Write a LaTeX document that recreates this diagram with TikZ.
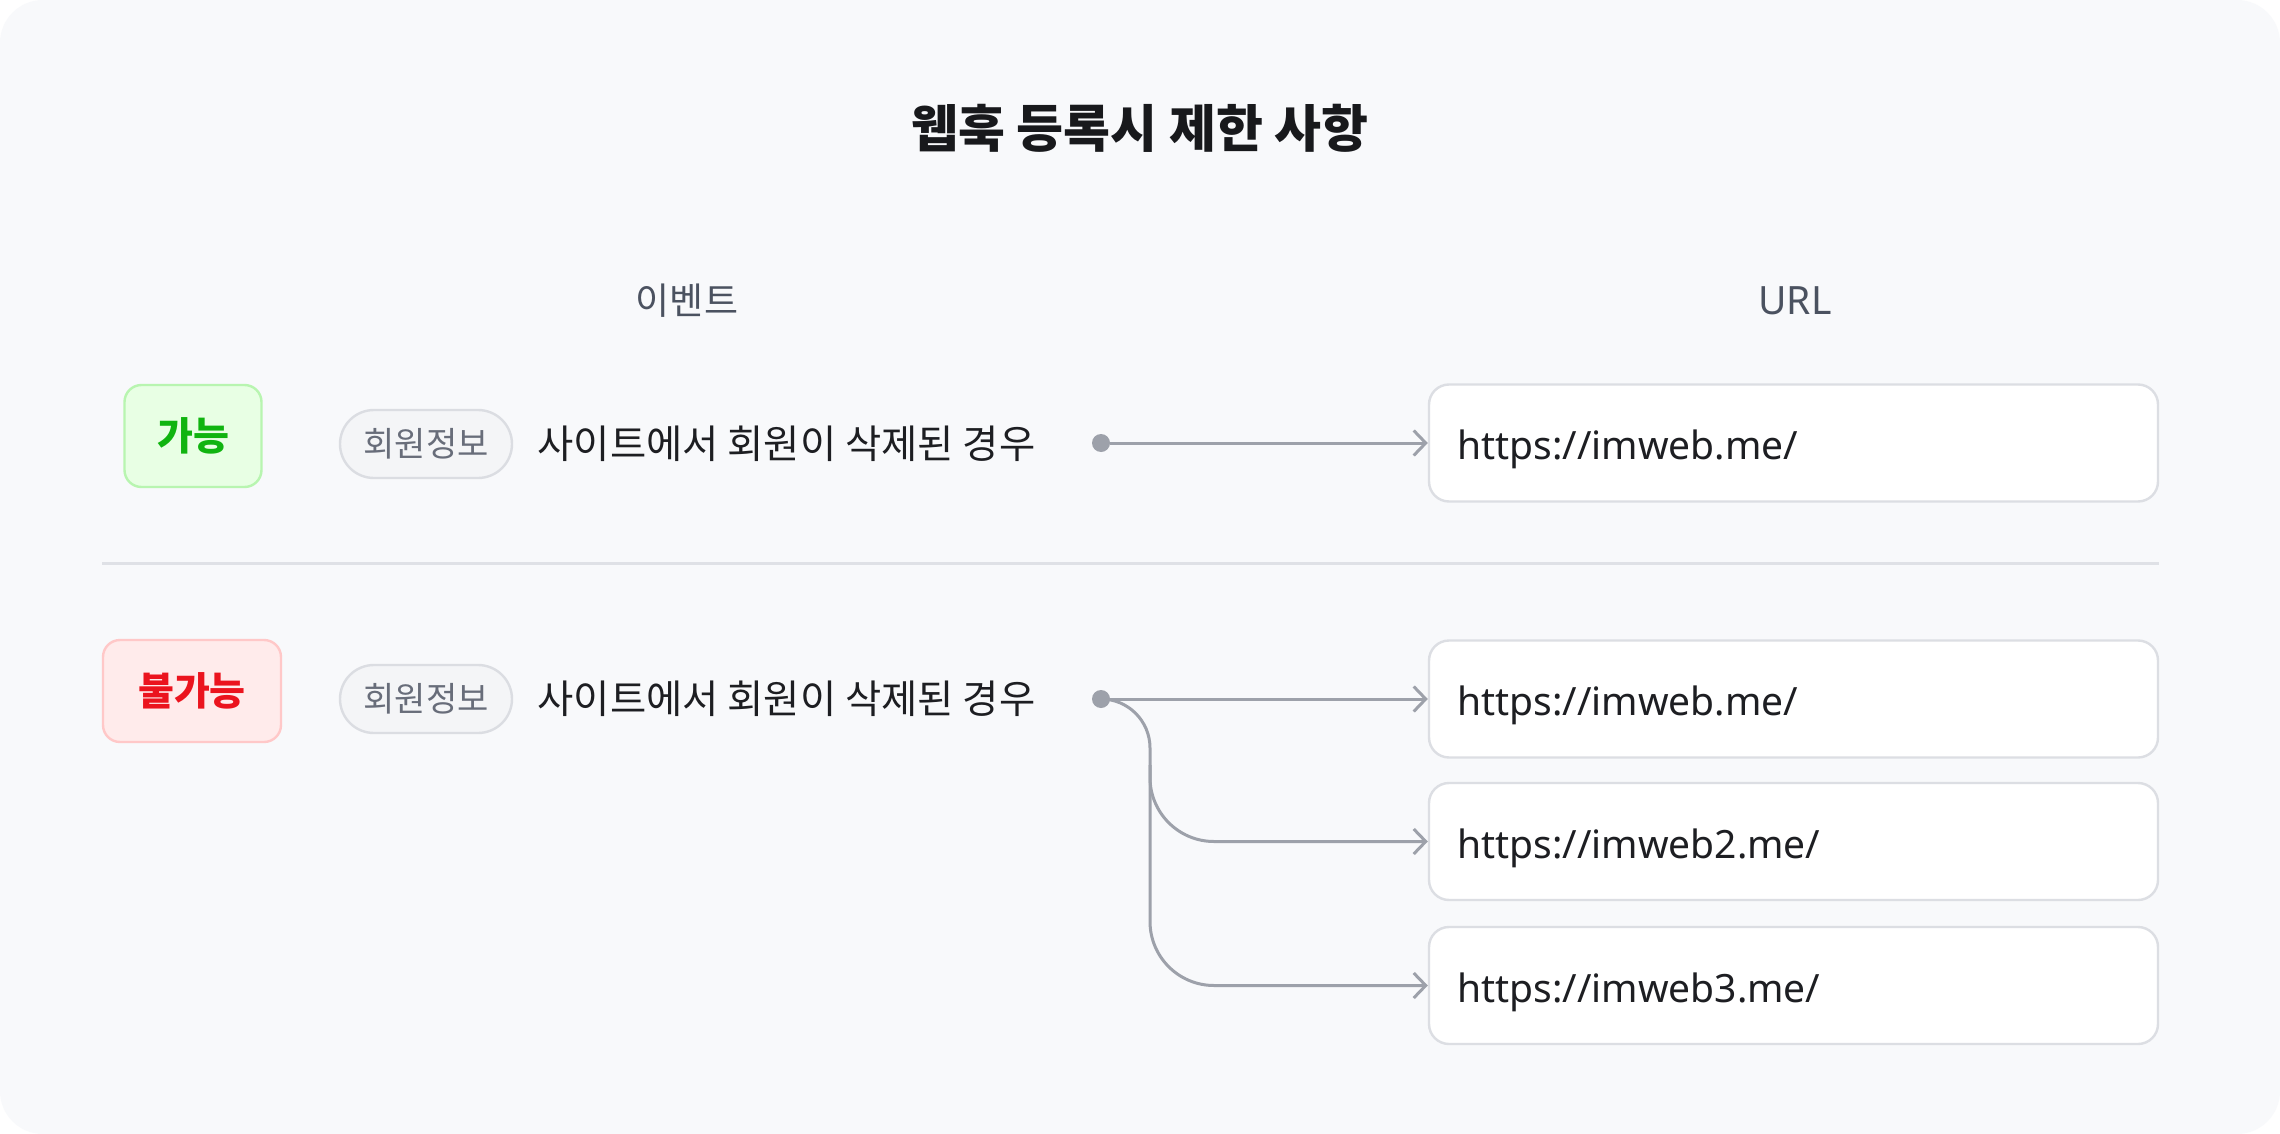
\documentclass[tikz,border=0pt]{standalone}
\usepackage{fontspec}
\setmainfont{Noto Sans}
\newfontfamily\kr{Noto Sans CJK KR}
\usetikzlibrary{arrows.meta}

\definecolor{pagebg}{HTML}{F8F9FB}
\definecolor{titleink}{HTML}{18191C}
\definecolor{ink}{HTML}{1D1E22}
\definecolor{headink}{HTML}{4B5260}
\definecolor{pillink}{HTML}{686D7A}
\definecolor{pillline}{HTML}{DBDDE2}
\definecolor{pillfill}{HTML}{F4F5F7}
\definecolor{boxline}{HTML}{DCDEE3}
\definecolor{rule}{HTML}{DFE1E6}
\definecolor{linegray}{HTML}{9DA1AA}
\definecolor{okfill}{HTML}{E8FFE4}
\definecolor{okline}{HTML}{B8F5B0}
\definecolor{okink}{HTML}{10B410}
\definecolor{nofill}{HTML}{FFEBEB}
\definecolor{noline}{HTML}{FFC8C8}
\definecolor{noink}{HTML}{EB141E}

\tikzset{
    conn/.style={draw=linegray, line width=1.5pt},
    toarrow/.style={-{Straight Barb[length=6pt,width=12.5pt]}},
    urlbox/.style={draw=boxline, fill=white, line width=1.2pt, rounded corners=10pt,
        minimum width=364.5pt, minimum height=58.5pt, inner sep=0pt},
    urltext/.style={anchor=base west, inner sep=0pt, text=ink, font=\fontsize{19.5pt}{23pt}\selectfont},
    pill/.style={draw=pillline, fill=pillfill, line width=1.2pt, rounded corners=17pt,
        minimum width=86pt, minimum height=34pt, inner sep=0pt, text=pillink,
        font=\kr\fontsize{17pt}{20pt}\selectfont},
    evtext/.style={anchor=west, inner sep=0pt, text=ink, font=\kr\fontsize{19.7pt}{23pt}\selectfont},
    badge/.style={line width=1.2pt, rounded corners=8.5pt, minimum height=51pt,
        inner sep=0pt, font=\kr\bfseries\fontsize{19.5pt}{23pt}\selectfont},
    head/.style={text=headink, font=\fontsize{19.5pt}{23pt}\selectfont},
    dot/.style={circle, fill=linegray, minimum size=9pt, inner sep=0pt}
}

\begin{document}
\begin{tikzpicture}[x=0.5pt, y=-0.5pt]
    % Background
    \fill[white] (0,0) rectangle (2280,1134);
    \fill[pagebg, rounded corners=21.5pt] (0,0) rectangle (2280,1134);
    \useasboundingbox (0,0) rectangle (2280,1134);

    % Title and column heads
    \node[text=titleink, font=\kr\bfseries\fontsize{25.5pt}{30pt}\selectfont] (title) at (1140,128) {웹훅 등록시 제한 사항};
    \node[head, font=\kr\fontsize{18.5pt}{22pt}\selectfont] (evhead) at (687,301) {이벤트};
    \node[head] (urlhead) at (1795,301) {URL};

    % Allowed row
    \node[badge, draw=okline, fill=okfill, text=okink, minimum width=68.5pt] (ok) at (193,436) {가능};
    \node[pill] (pill1) at (426,444) {회원정보};
    \node[evtext] (ev1) at ([xshift=12pt]pill1.east) {사이트에서 회원이 삭제된 경우};
    \node[dot] (dot1) at (1101,443) {};
    \node[urlbox] (url1) at (1793.5,443) {};
    \node[urltext] (u1) at ([xshift=14.5pt,yshift=-8.25pt]url1.west) {https://imweb.me/};

    % Divider
    \draw[rule, line width=1.5pt] (102,563) -- (2159,563);

    % Not allowed row
    \node[badge, draw=noline, fill=nofill, text=noink, minimum width=89pt] (no) at (192,691) {불가능};
    \node[pill] (pill2) at (426,699) {회원정보};
    \node[evtext] (ev2) at ([xshift=12pt]pill2.east) {사이트에서 회원이 삭제된 경우};
    \node[dot] (dot2) at (1101,699) {};
    \node[urlbox] (url2) at (1793.5,699) {};
    \node[urltext] (u2) at ([xshift=14.5pt,yshift=-8.25pt]url2.west) {https://imweb.me/};
    \node[urlbox] (url3) at (1793.5,841.5) {};
    \node[urltext] (u3) at ([xshift=14.5pt,yshift=-8.25pt]url3.west) {https://imweb2.me/};
    \node[urlbox] (url4) at (1793.5,985.5) {};
    \node[urltext] (u4) at ([xshift=14.5pt,yshift=-8.25pt]url4.west) {https://imweb3.me/};

    % Connectors
    \coordinate (trunk) at (1150,765);
    \draw[conn, toarrow] (dot1) -- (url1.west);
    \draw[conn, toarrow] (dot2) -- (url2.west);
    \draw[conn, rounded corners=24.5pt] (dot2.center) -| (trunk);
    \draw[conn, toarrow, rounded corners=32pt] (trunk) |- (url3.west);
    \draw[conn, toarrow, rounded corners=32pt] (trunk) |- (url4.west);

\end{tikzpicture}
\end{document}
